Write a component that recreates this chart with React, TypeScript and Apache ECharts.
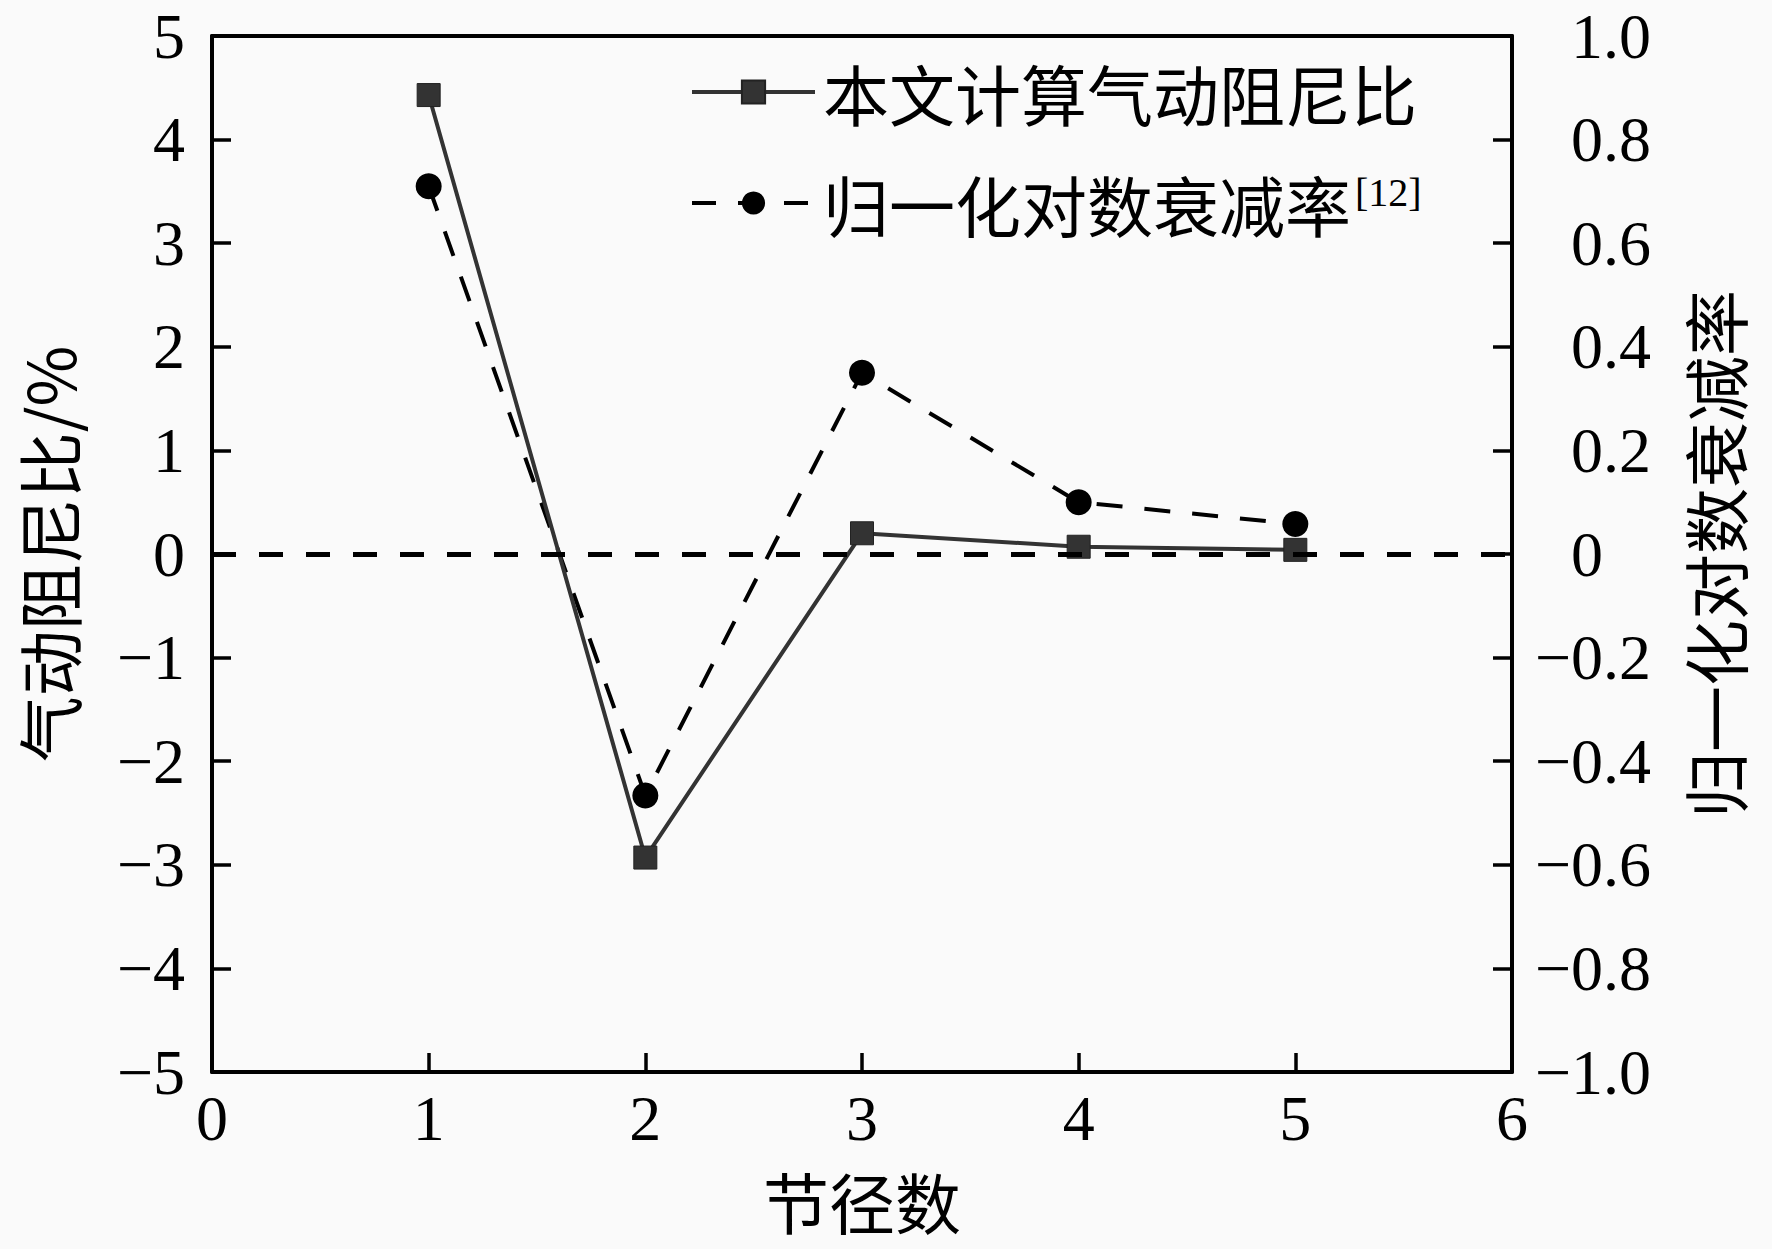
import React, { useEffect, useRef } from "react";
import * as echarts from "echarts";

const nodalDiameters = [1, 2, 3, 4, 5];
const dampingRatio = [4.43, -2.93, 0.2, 0.07, 0.04];
const logDecrement = [0.71, -0.466, 0.35, 0.1, 0.058];
const seriesNames = ["本文计算气动阻尼比", "归一化对数衰减率"];
const xAxisName = "节径数";
const leftAxisName = "气动阻尼比/%";
const rightAxisName = "归一化对数衰减率";
const refMark = "[12]";

const SERIF = "'Liberation Serif', 'Noto Sans CJK SC', serif";
const CJK = "'Noto Sans CJK SC', 'Liberation Serif', sans-serif";
const LABEL_SIZE = 64;

function fmtLeft(v: number) {
  const r = Math.round(v);
  return r < 0 ? "\u2212" + Math.abs(r) : String(r);
}

function fmtRight(v: number) {
  const r = Math.round(v * 10) / 10;
  if (r === 0) return "{h|\u2212}{n|0}";
  if (r < 0) return "{n|\u2212" + Math.abs(r).toFixed(1) + "}";
  return "{h|\u2212}{n|" + r.toFixed(1) + "}";
}

export default function App() {
  const ref = useRef<HTMLDivElement>(null);
  useEffect(() => {
    if (!ref.current) return;
    const chart = echarts.init(ref.current, undefined, { renderer: "svg" });
    const axisLine = { show: true, onZero: false, lineStyle: { color: "#000", width: 4 } };
    const tick = { show: true, inside: true, length: 19, lineStyle: { color: "#000", width: 3.5 } };
    chart.setOption({
      animation: false,
      backgroundColor: "#fafafa",
      textStyle: { fontFamily: SERIF, color: "#000" },
      grid: { left: 212, right: 260, top: 36, bottom: 177, containLabel: false },
      legend: {
        orient: "vertical",
        left: 685,
        top: 54,
        itemWidth: 123,
        itemHeight: 29,
        itemGap: 38,
        selectedMode: false,
        data: [
          { name: seriesNames[0], lineStyle: { width: 4, color: "#333" } },
          { name: seriesNames[1], lineStyle: { width: 4, color: "#000", type: [24, 22] } },
        ],
        formatter: (name: string) =>
          name === seriesNames[1] ? "{a|" + name + "}{sup|" + refMark + "}" : "{a|" + name + "}",
        textStyle: {
          fontFamily: CJK,
          fontSize: 66,
          color: "#000",
          padding: [0, 0, 0, 3],
          rich: {
            a: { fontFamily: CJK, fontSize: 66, lineHeight: 80, color: "#000" },
            sup: {
              fontFamily: SERIF,
              fontSize: 40,
              lineHeight: 40,
              verticalAlign: "top",
              padding: [9, 0, 0, 4],
              color: "#000",
            },
          },
        },
      },
      xAxis: [
        {
          type: "value",
          position: "bottom",
          min: 0,
          max: 6,
          interval: 1,
          axisLine,
          axisTick: tick,
          splitLine: { show: false },
          axisLabel: { fontFamily: SERIF, fontSize: LABEL_SIZE, lineHeight: 60, color: "#000", margin: 16 },
          name: xAxisName,
          nameLocation: "middle",
          nameGap: 95,
          nameTextStyle: { fontFamily: CJK, fontSize: 66, lineHeight: 66, color: "#000" },
        },
        {
          type: "value",
          position: "top",
          min: 0,
          max: 6,
          interval: 1,
          axisLine,
          axisTick: { show: false },
          axisLabel: { show: false },
          splitLine: { show: false },
        },
      ],
      yAxis: [
        {
          type: "value",
          position: "left",
          min: -5,
          max: 5,
          interval: 1,
          axisLine,
          axisTick: tick,
          splitLine: { show: false },
          axisLabel: {
            fontFamily: SERIF,
            fontSize: LABEL_SIZE,
            lineHeight: 60,
            color: "#000",
            margin: 27,
            formatter: fmtLeft,
          },
          name: leftAxisName,
          nameLocation: "middle",
          nameRotate: 90,
          nameGap: 132,
          nameTextStyle: { fontFamily: CJK, fontSize: 66, color: "#000" },
        },
        {
          type: "value",
          position: "right",
          min: -1,
          max: 1,
          interval: 0.2,
          axisLine,
          axisTick: tick,
          splitLine: { show: false },
          axisLabel: {
            align: "left",
            margin: 23,
            fontFamily: SERIF,
            fontSize: LABEL_SIZE,
            lineHeight: 60,
            color: "#000",
            formatter: fmtRight,
            rich: {
              h: { fontFamily: SERIF, fontSize: LABEL_SIZE, lineHeight: 60, color: "rgba(0,0,0,0)" },
              n: { fontFamily: SERIF, fontSize: LABEL_SIZE, lineHeight: 60, color: "#000" },
            },
          },
          name: rightAxisName,
          nameLocation: "middle",
          nameRotate: 90,
          nameGap: 168,
          nameTextStyle: { fontFamily: CJK, fontSize: 66, color: "#000" },
        },
      ],
      series: [
        {
          name: seriesNames[0],
          type: "line",
          xAxisIndex: 0,
          yAxisIndex: 0,
          data: nodalDiameters.map((x, i) => [x, dampingRatio[i]]),
          symbol: "rect",
          symbolSize: 23,
          itemStyle: { color: "#333", borderColor: "#222", borderWidth: 1 },
          lineStyle: { color: "#333", width: 4, type: "solid" },
          z: 3,
          markLine: {
            silent: true,
            symbol: ["none", "none"],
            label: { show: false },
            lineStyle: { color: "#000", width: 5, type: [24, 23] },
            data: [{ yAxis: 0 }],
          },
        },
        {
          name: seriesNames[1],
          type: "line",
          xAxisIndex: 0,
          yAxisIndex: 1,
          data: nodalDiameters.map((x, i) => [x, logDecrement[i]]),
          symbol: "circle",
          symbolSize: 26,
          itemStyle: { color: "#000" },
          lineStyle: { color: "#000", width: 4, type: [26, 22] },
          z: 2,
        },
      ],
    });
    return () => chart.dispose();
  }, []);
  return (
    <div
      ref={ref}
      style={{ position: "absolute", left: 0, top: 0, width: 1772, height: 1249 }}
    />
  );
}
